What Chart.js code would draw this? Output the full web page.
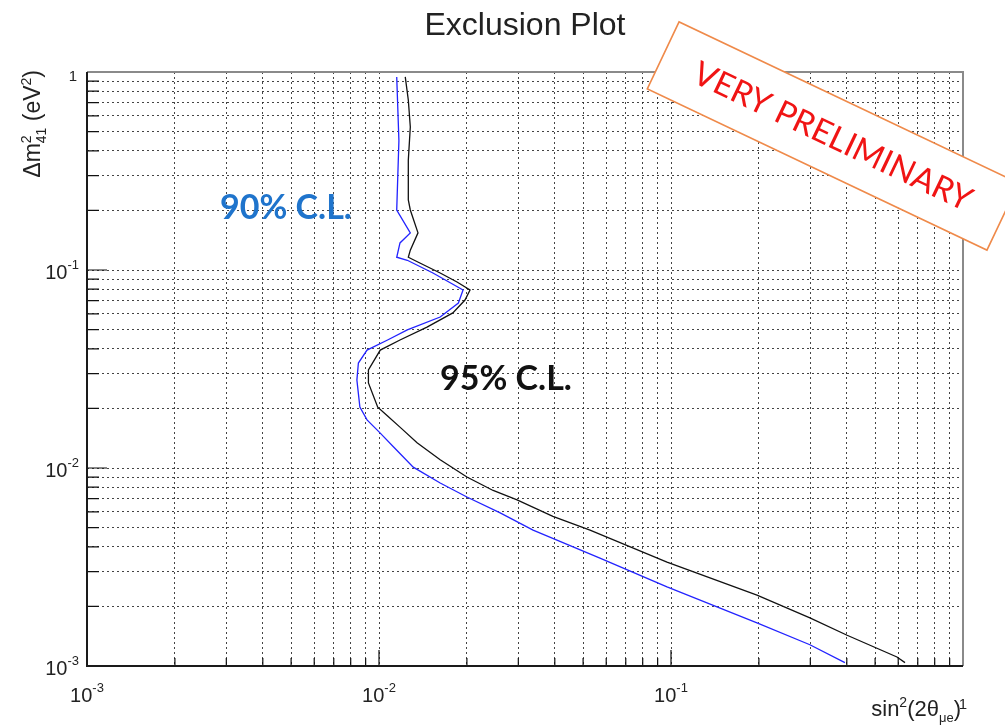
<!DOCTYPE html>
<html>
<head>
<meta charset="utf-8">
<title>Exclusion Plot</title>
<script src="https://cdn.jsdelivr.net/npm/chart.js@4.4.1/dist/chart.umd.min.js"></script>
<style>
  html, body { margin: 0; padding: 0; background: #fff; }
  #wrap { width: 1005px; height: 725px; }
</style>
</head>
<body>
<div id="wrap"><canvas id="plot" width="1005" height="725"></canvas></div>
<script>
// 95% C.L. contour (black)
const cl95Sin2 = [0.0123, 0.0126, 0.0128, 0.0126, 0.0126, 0.0128, 0.0136, 0.0128, 0.0126, 0.0138,
                  0.0162, 0.0185, 0.0205, 0.0197, 0.0179, 0.0146, 0.0118, 0.0101, 0.0092, 0.0092,
                  0.0099, 0.0107, 0.0119, 0.0135, 0.0162, 0.0200, 0.0246, 0.0297, 0.0394, 0.0528,
                  0.0969, 0.197, 0.299, 0.401, 0.594, 0.633];
const cl95Dm2  = [0.944, 0.722, 0.528, 0.359, 0.226, 0.201, 0.154, 0.126, 0.116, 0.1085,
                  0.0966, 0.087, 0.0792, 0.0705, 0.0607, 0.0515, 0.0443, 0.0394, 0.0313, 0.0269,
                  0.0203, 0.0183, 0.0159, 0.0134, 0.0110, 0.0090, 0.0077, 0.0069, 0.0057, 0.00486,
                  0.00335, 0.00228, 0.00175, 0.00143, 0.00111, 0.00104];

// 90% C.L. contour (blue)
const cl90Sin2 = [0.0115, 0.0117, 0.0115, 0.0128, 0.0118, 0.0115, 0.0125, 0.0153, 0.0194, 0.0187,
                  0.0162, 0.0125, 0.0107, 0.0091, 0.0085, 0.0084, 0.0086, 0.0091, 0.0101, 0.0112,
                  0.0131, 0.0162, 0.0200, 0.0260, 0.0337, 0.0571, 0.0969, 0.197, 0.299, 0.394];
const cl90Dm2  = [0.944, 0.45, 0.201, 0.154, 0.137, 0.116, 0.112, 0.0966, 0.0792, 0.0681,
                  0.0579, 0.0498, 0.0443, 0.0394, 0.0339, 0.0278, 0.0203, 0.0175, 0.0150, 0.0128,
                  0.0101, 0.0084, 0.00714, 0.00593, 0.00486, 0.00351, 0.00251, 0.00165, 0.00128, 0.00104];

// axis range, labelled decades and their exponents ("" = plain "1")
const axisMin = 1e-3, axisMax = 1;
const majorTicks = [1e-3, 1e-2, 1e-1, 1];
const majorExps  = ["-3", "-2", "-1", ""];
const decades = [1e-3, 1e-2, 1e-1];
const steps = [1, 2, 3, 4, 5, 6, 7, 8, 9];
const gridVals = decades.flatMap(d => steps.map(s => d * s)).concat([axisMax]);

const FONT = '"Liberation Sans", Arial, sans-serif';
const LABEL_FONT = 'Lato, "Open Sans", sans-serif';

const toPts = (xs, ys) => xs.map((x, i) => ({ x, y: ys[i] }));

function drawPow(ctx, exp, x, base, align) {
  // "10" with a raised exponent; align is 'center' or 'right'
  ctx.font = '20px ' + FONT;
  const wb = ctx.measureText('10').width;
  ctx.font = '13px ' + FONT;
  const we = ctx.measureText(exp).width;
  const total = wb + we;
  const x0 = align === 'center' ? x - total / 2 : x - total;
  ctx.textAlign = 'left';
  ctx.font = '20px ' + FONT;
  ctx.fillText('10', x0, base);
  ctx.font = '13px ' + FONT;
  ctx.fillText(exp, x0 + wb, base - 10);
}

function drawPieces(ctx, pieces, x0, base) {
  // pieces: [text, size, dy, advance?]
  let x = x0;
  pieces.forEach(p => {
    ctx.font = p[1] + 'px ' + FONT;
    ctx.fillText(p[0], x, base + p[2]);
    if (p[3] !== false) x += ctx.measureText(p[0]).width;
  });
  return x;
}

function piecesWidth(ctx, pieces) {
  let w = 0;
  pieces.forEach(p => {
    ctx.font = p[1] + 'px ' + FONT;
    if (p[3] !== false) w += ctx.measureText(p[0]).width;
  });
  return w;
}

const decor = {
  id: 'decor',
  afterDraw(chart) {
    const { ctx, chartArea: a, scales: { x, y } } = chart;
    ctx.save();
    ctx.textBaseline = 'alphabetic';

    // inner tick marks on left and bottom axes
    ctx.strokeStyle = '#111';
    ctx.lineWidth = 1.2;
    gridVals.forEach(v => {
      const major = majorTicks.includes(v);
      const px = x.getPixelForValue(v);
      const py = y.getPixelForValue(v);
      ctx.beginPath();
      ctx.moveTo(px, a.bottom);
      ctx.lineTo(px, a.bottom - (major ? 16 : 8));
      ctx.moveTo(a.left, py);
      ctx.lineTo(a.left + (major ? 20 : 12), py);
      ctx.stroke();
    });

    // frame
    ctx.lineWidth = 2;
    ctx.strokeStyle = '#8a8a8a';
    ctx.beginPath();
    ctx.moveTo(a.left, a.top); ctx.lineTo(a.right, a.top); ctx.lineTo(a.right, a.bottom);
    ctx.stroke();
    ctx.strokeStyle = '#1a1a1a';
    ctx.beginPath();
    ctx.moveTo(a.left, a.top); ctx.lineTo(a.left, a.bottom); ctx.lineTo(a.right, a.bottom);
    ctx.stroke();

    // tick labels
    ctx.fillStyle = '#222';
    majorTicks.forEach((v, i) => {
      const px = x.getPixelForValue(v);
      const py = y.getPixelForValue(v);
      if (majorExps[i]) {
        drawPow(ctx, majorExps[i], px, 702, 'center');
        drawPow(ctx, majorExps[i], 79, py + 9, 'right');
      } else {
        ctx.font = '15px ' + FONT;
        ctx.textAlign = 'center';
        ctx.fillText('1', px, 709);
        ctx.textAlign = 'right';
        ctx.fillText('1', 77, py + 9);
      }
    });

    // title
    ctx.font = '32px ' + FONT;
    ctx.textAlign = 'center';
    ctx.fillText('Exclusion Plot', 525, 35);

    // x axis title, right aligned at the frame edge
    ctx.textAlign = 'left';
    const xTitle = [['sin', 22, 0], ['2', 14, -9], ['(2θ', 22, 0], ['μe', 13, 6], [')', 22, 0]];
    const xw = piecesWidth(ctx, xTitle);
    drawPieces(ctx, xTitle, 961 - xw, 716);

    // y axis title, rotated, ending at the top of the frame
    const yTitle = [['Δm', 23, 0], ['2', 14, -9, false], ['41', 14, 6], [' (eV', 23, 0], ['2', 14, -9], [')', 23, 0]];
    const yw = piecesWidth(ctx, yTitle);
    ctx.save();
    ctx.translate(40, 70);
    ctx.rotate(-Math.PI / 2);
    drawPieces(ctx, yTitle, -yw, 0);
    ctx.restore();

    // confidence level labels
    ctx.textAlign = 'left';
    ctx.font = 'bold 34px ' + LABEL_FONT;
    ctx.fillStyle = '#1f74cc';
    ctx.fillText('90% C.L.', 220, 219);
    ctx.fillStyle = '#111';
    ctx.fillText('95% C.L.', 440, 390);

    // preliminary stamp
    ctx.save();
    ctx.translate(833, 136);
    ctx.rotate(25.4 * Math.PI / 180);
    ctx.fillStyle = '#fff';
    ctx.fillRect(-188, -37, 376, 74);
    ctx.strokeStyle = '#ef8a4a';
    ctx.lineWidth = 1.6;
    ctx.strokeRect(-188, -37, 376, 74);
    ctx.fillStyle = '#f01414';
    ctx.textAlign = 'center';
    ctx.textBaseline = 'middle';
    let fs = 30;
    ctx.font = fs + 'px ' + LABEL_FONT;
    fs = fs * 305 / ctx.measureText('VERY PRELIMINARY').width;
    ctx.font = fs.toFixed(1) + 'px ' + LABEL_FONT;
    ctx.fillText('VERY PRELIMINARY', 0, 1);
    ctx.restore();

    ctx.restore();
  }
};

const gridOpts = { color: 'rgba(35,35,35,0.85)', lineWidth: 1, drawTicks: false };
const borderOpts = { display: false, dash: [2, 3] };

new Chart(document.getElementById('plot').getContext('2d'), {
  type: 'scatter',
  data: {
    datasets: [
      {
        label: '95% C.L.',
        data: toPts(cl95Sin2, cl95Dm2),
        showLine: true,
        borderColor: '#111',
        borderWidth: 1.3,
        pointRadius: 0,
        tension: 0
      },
      {
        label: '90% C.L.',
        data: toPts(cl90Sin2, cl90Dm2),
        showLine: true,
        borderColor: '#2323ff',
        borderWidth: 1.3,
        pointRadius: 0,
        tension: 0
      }
    ]
  },
  options: {
    responsive: false,
    animation: false,
    layout: { padding: { left: 87, right: 42, top: 72, bottom: 59 } },
    plugins: { legend: { display: false }, tooltip: { enabled: false }, title: { display: false } },
    scales: {
      x: {
        type: 'logarithmic',
        min: axisMin, max: axisMax,
        afterBuildTicks: s => { s.ticks = gridVals.map(v => ({ value: v })); },
        ticks: { display: false },
        grid: gridOpts,
        border: borderOpts
      },
      y: {
        type: 'logarithmic',
        min: axisMin, max: axisMax,
        afterBuildTicks: s => { s.ticks = gridVals.map(v => ({ value: v })); },
        ticks: { display: false },
        grid: gridOpts,
        border: borderOpts
      }
    }
  },
  plugins: [decor]
});
</script>
</body>
</html>
